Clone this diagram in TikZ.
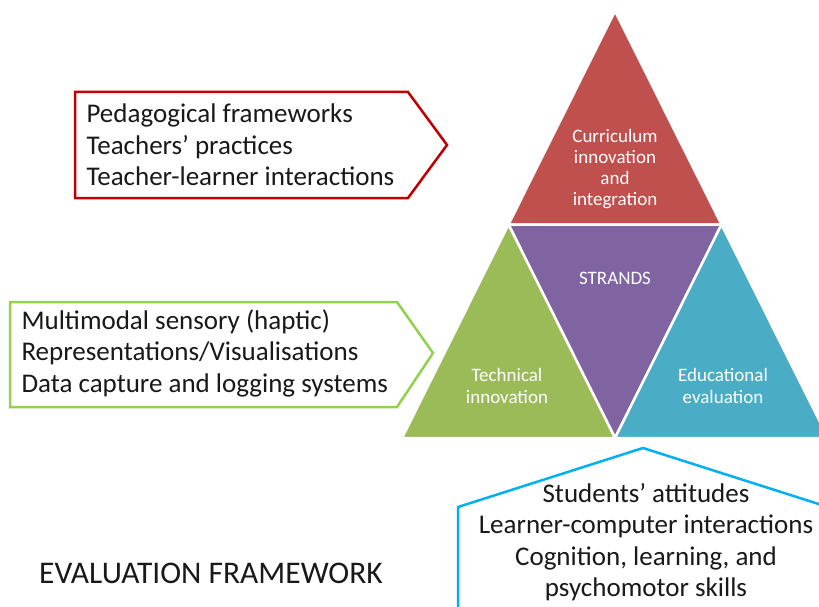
\documentclass[tikz,border=0pt]{standalone}
\usepackage{fontspec}
\setmainfont{Carlito}
\usetikzlibrary{calc}
\definecolor{curred}{HTML}{C0504D}
\definecolor{strpurple}{HTML}{8064A2}
\definecolor{techgreen}{HTML}{9BBB59}
\definecolor{edublue}{HTML}{4BACC6}
\definecolor{boxred}{HTML}{C00000}
\definecolor{boxgreen}{HTML}{92D050}
\definecolor{boxblue}{HTML}{00B0F0}

\begin{document}
\begin{tikzpicture}[x=1pt,y=-1pt]
	\tikzset{strand/.style={draw=white,line width=2.5pt},
		strandtext/.style={text=white,align=center,font=\fontsize{19}{21.3}\selectfont},
		callout/.style={line width=2.5pt,fill=white,line join=miter},
		callouttext/.style={text=black!90,font=\fontsize{27}{31.5}\selectfont}}
	\useasboundingbox (0,0) rectangle (819,607);
	\clip (0,0) rectangle (819,607);
	% big triangle and its midpoints
	\coordinate (top) at (615,11);
	\coordinate (bl) at (402,438);
	\coordinate (br) at (828,438);
	\coordinate (ml) at ($(top)!0.5!(bl)$);
	\coordinate (mr) at ($(top)!0.5!(br)$);
	\coordinate (mb) at ($(bl)!0.5!(br)$);
	\fill[curred,strand] (top) -- (ml) -- (mr) -- cycle;
	\fill[strpurple,strand] (ml) -- (mr) -- (mb) -- cycle;
	\fill[techgreen,strand] (ml) -- (mb) -- (bl) -- cycle;
	\fill[edublue,strand] (mr) -- (br) -- (mb) -- cycle;
	\node[strandtext] (curric) at (615,169) {Curriculum\\innovation\\and\\integration};
	\node[strandtext] (strands) at (615,278) {STRANDS};
	\node[strandtext] (techn) at (507,386) {Technical\\innovation};
	\node[strandtext] (educ) at (723,386) {Educational\\evaluation};
	% callouts
	\draw[callout,draw=boxred] (75,92) -- (408,92) -- (447,145) -- (408,198) -- (75,198) -- cycle;
	\node[callouttext,anchor=west,align=left] (pedag) at (83,145) {Pedagogical frameworks\\Teachers’ practices\\Teacher-learner interactions};
	\draw[callout,draw=boxgreen] (10,302) -- (397,302) -- (433,353) -- (397,407) -- (10,407) -- cycle;
	\node[callouttext,anchor=west,align=left] (multi) at (18,353) {Multimodal sensory (haptic)\\Representations/Visualisations\\Data capture and logging systems};
	\draw[callout,draw=boxblue] (643,448) -- (828,507) -- (828,620) -- (458,620) -- (458,507) -- cycle;
	\node[callouttext,align=center] (stud) at (646,542) {Students’ attitudes\\Learner-computer interactions\\Cognition, learning, and\\psychomotor skills};
	\node[font=\fontsize{31.5}{36}\selectfont,text=black!90] (title) at (211,573) {EVALUATION FRAMEWORK};
\end{tikzpicture}
\end{document}
